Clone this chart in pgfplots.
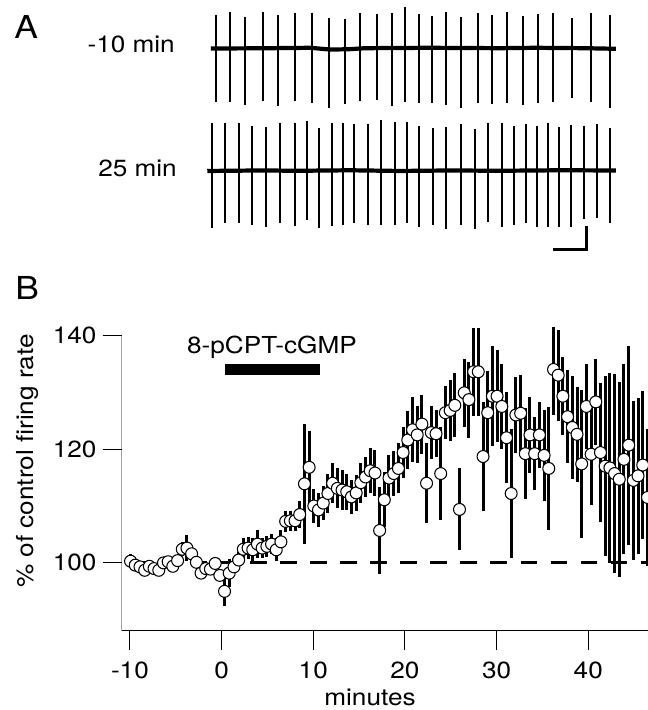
\documentclass[border=0pt]{standalone}
\usepackage{fontspec}
\setmainfont{TeX Gyre Heros}[FakeStretch=1.12]
\usepackage{pgfplots}
\usepackage{pgfplotstable}
\pgfplotsset{compat=1.18}

\newcommand{\lbl}{\fontsize{13.3}{16}\selectfont}
\newcommand{\panel}{\fontsize{18}{21}\selectfont}

% firing rate, % of control: time (min), mean, sem
\pgfplotstableread{
x y e
-9.93 100.3 1.2
-9.42 99.6 0.8
-8.90 99.3 0.8
-8.39 98.7 0.8
-7.88 99.4 0.7
-7.37 99.0 0.8
-6.85 98.7 0.8
-6.34 100.0 0.7
-5.83 100.2 0.8
-5.32 99.4 0.7
-4.80 100.4 0.9
-4.29 102.4 1.2
-3.78 102.6 2.3
-3.27 101.6 0.9
-2.75 100.1 0.8
-2.24 98.2 0.8
-1.73 99.0 0.8
-1.22 98.9 0.8
-0.70 99.9 0.8
-0.19 97.8 1.0
0.32 95.0 2.6
0.83 98.2 2.5
1.35 99.3 1.5
1.86 100.5 1.5
2.37 102.4 2.0
2.89 102.6 2.0
3.40 102.3 2.0
3.91 103.3 2.5
4.42 102.6 1.8
4.94 102.9 1.8
5.45 103.3 1.8
5.96 102.3 2.0
6.47 103.7 2.0
6.99 107.3 1.8
7.50 107.4 1.8
8.01 107.4 1.8
8.52 108.5 2.3
9.04 113.9 10.5
9.55 116.8 6.3
10.06 110.0 3.0
10.57 109.3 3.0
11.09 110.5 3.0
11.60 112.2 3.5
12.11 114.0 3.5
12.63 113.1 3.5
13.14 112.8 3.5
13.65 112.5 3.2
14.16 111.6 3.0
14.68 112.3 3.2
15.19 114.1 3.5
15.70 115.1 3.5
16.21 116.2 4.0
16.73 115.8 4.0
17.24 105.7 7.7
17.75 111.1 4.8
18.26 114.9 4.0
18.78 115.7 4.0
19.29 116.6 4.4
19.80 119.4 4.4
20.31 121.6 5.1
20.83 123.4 5.7
21.34 122.5 5.0
21.85 124.4 5.2
22.36 114.0 7.0
22.88 122.9 4.7
23.39 122.7 4.1
23.90 115.7 8.2
24.41 126.4 4.7
24.93 126.8 5.3
25.44 127.7 5.6
25.95 109.4 7.2
26.47 129.9 6.0
26.98 128.7 6.7
27.49 133.6 7.7
28.00 133.6 7.7
28.52 118.7 9.5
29.03 126.4 7.3
29.54 129.3 8.8
30.05 129.3 8.1
30.57 127.5 7.4
31.08 122.0 8.0
31.59 112.2 11.4
32.10 126.0 6.7
32.62 126.3 6.7
33.13 119.2 8.0
33.64 122.5 6.7
34.15 119.2 6.4
34.67 122.5 5.8
35.18 118.9 8.0
35.69 116.6 10.8
36.21 134.0 8.0
36.72 133.0 8.0
37.23 129.3 6.9
37.74 125.7 8.2
38.26 123.8 9.0
38.77 122.6 8.4
39.28 117.4 13.0
39.79 127.5 7.5
40.31 119.1 9.0
40.82 128.3 7.5
41.33 119.4 12.3
41.84 117.0 15.8
42.36 116.7 16.7
42.87 115.7 17.5
43.38 114.7 17.1
43.89 118.2 16.7
44.41 120.7 17.5
44.92 114.5 14.0
45.43 115.3 13.7
45.94 117.2 13.0
46.46 111.5 12.0
}\ratedata

\begin{document}
\begin{tikzpicture}[x=0.02cm,y=-0.02cm]
\path[use as bounding box] (0,0) rectangle (648,710);

% ---- panel A: extracellular traces, drawn in picture pixels
\begin{axis}[at={(4cm,-5.2cm)},anchor=south west,scale only axis,
  width=8.6cm,height=5.2cm,xmin=200,xmax=630,ymin=0,ymax=260,
  y dir=reverse,hide axis,clip=false]
% -10 min
\addplot[black,line width=2.4pt] coordinates
  {(211,48.5)(260,48.3)(310,47.8)(330,49.5)(348,49.3)(365,48.2)(430,47.8)(500,48.2)(535,47.8)(585,48.2)(616,48.8)};
\addplot[black,line width=1.1pt,unbounded coords=jump] coordinates {
(215.7,15)(215.7,101.7)(215.7,nan) (230,11.7)(230,101.7)(230,nan)
(245,16.7)(245,105)(245,nan) (262.7,11.7)(262.7,100.7)(262.7,nan)
(278.3,15)(278.3,106)(278.3,nan) (295,12.7)(295,100.7)(295,nan)
(312.3,12.7)(312.3,102.7)(312.3,nan) (329.3,18.3)(329.3,108.3)(329.3,nan)
(345,19.3)(345,104)(345,nan) (360,13.3)(360,100.7)(360,nan)
(376.7,14)(376.7,100)(376.7,nan) (391.7,13.3)(391.7,106)(391.7,nan)
(405,7.3)(405,101.7)(405,nan) (419,14)(419,103.3)(419,nan)
(432.3,16)(432.3,102.7)(432.3,nan) (446,12)(446,105)(446,nan)
(460.7,17)(460.7,108.3)(460.7,nan) (477.7,13)(477.7,102.7)(477.7,nan)
(492.3,15)(492.3,104)(492.3,nan) (507.3,12)(507.3,102.7)(507.3,nan)
(522.7,16)(522.7,105)(522.7,nan) (538.3,14)(538.3,103.3)(538.3,nan)
(552.7,13)(552.7,101.7)(552.7,nan) (571.7,18)(571.7,98.3)(571.7,nan)
(591,13)(591,101.7)(591,nan) (610,15)(610,108.3)(610,nan)};
% 25 min
\addplot[black,line width=2.4pt] coordinates
  {(207.3,171)(260,170.5)(300,170.8)(350,170.3)(400,171)(450,170.5)(500,170.8)(560,170.3)(616,170.5)};
\addplot[black,line width=1.1pt,unbounded coords=jump] coordinates {
(211.7,123.3)(211.7,228.3)(211.7,nan) (225,123.3)(225,223.3)(225,nan)
(239,123.3)(239,222.7)(239,nan) (251.7,126)(251.7,225)(251.7,nan)
(265.7,127.3)(265.7,226.7)(265.7,nan) (280,123.3)(280,223.3)(280,nan)
(295,122.7)(295,226)(295,nan) (307.3,121)(307.3,220)(307.3,nan)
(319.3,128.3)(319.3,228.3)(319.3,nan) (332.3,123.3)(332.3,226)(332.3,nan)
(343.3,123.3)(343.3,225)(343.3,nan) (354,124)(354,222.7)(354,nan)
(368.3,124)(368.3,225)(368.3,nan) (381,120)(381,225)(381,nan)
(395,121.7)(395,225)(395,nan) (406.7,121.7)(406.7,223.3)(406.7,nan)
(419,126)(419,226.7)(419,nan) (432.7,128.3)(432.7,225)(432.7,nan)
(446,126.7)(446,229.3)(446,nan) (460.7,124)(460.7,225)(460.7,nan)
(475,129.3)(475,229.3)(475,nan) (488.3,123.3)(488.3,221.7)(488.3,nan)
(501.7,122.7)(501.7,227.3)(501.7,nan) (514.3,126)(514.3,225)(514.3,nan)
(526,124)(526,223.3)(526,nan) (536.7,126)(536.7,227.3)(536.7,nan)
(547.7,122.7)(547.7,226.7)(547.7,nan) (559.3,127.3)(559.3,226.7)(559.3,nan)
(571,125)(571,226.7)(571,nan) (584.3,126)(584.3,219.3)(584.3,nan)
(596.7,124)(596.7,218.3)(596.7,nan) (610,128.3)(610,223.3)(610,nan)};
% scale bar
\addplot[black,line width=1.7pt] coordinates {(553.3,250)(586.7,250)(586.7,226)};
\end{axis}

\node[anchor=base east,font=\lbl] at (181,52.7) {-10 min};
\node[anchor=base east,font=\lbl] at (183,176.7) {25 min};
\node[anchor=base west,font=\panel,inner sep=0pt] at (14,38.3) {A};
\node[anchor=base west,font=\panel,inner sep=0pt] at (15,299.3) {B};

% ---- panel B: firing rate
\begin{axis}[at={(2.434cm,-12.614cm)},anchor=south west,scale only axis,
  width=10.526cm,height=6.054cm,
  xmin=-10.9,xmax=46.5,ymin=88.1,ymax=141.3,
  axis x line*=bottom,axis y line*=left,
  y axis line style={draw=none},
  axis line style={line width=0.6pt},
  xtick={-10,0,10,20,30,40},ytick={100,120,140},
  tick align=outside,major tick length=0.38cm,
  tick style={line width=0.6pt,black},
  /pgf/number format/assume math mode=true,
  tick label style={font=\lbl},
  xticklabel style={yshift=-0.12cm},
]
\draw[line width=0.6pt] (axis cs:-10.9,88.1) -- (axis cs:-10.9,140);
\addplot[black,line width=1.7pt,dash pattern=on 9.5pt off 7.6pt]
  coordinates {(-10,100)(46.5,100)};
\addplot[only marks,mark=none,error bars/.cd,y dir=both,y explicit,error mark=none,
  error bar style={draw=black,solid,line width=1.7pt}]
  table[x=x,y=y,y error=e] {\ratedata};
\addplot[only marks,mark=*,mark size=3.4pt,
  mark options={fill=white,draw=black,line width=0.6pt}]
  table[x=x,y=y] {\ratedata};
\fill (axis cs:0.36,133.1) rectangle (axis cs:10.73,135.0);
\node[anchor=base,font=\lbl] at (axis cs:5.49,136.8) {8-pCPT-cGMP};
\end{axis}

\node[anchor=base,font=\lbl] at (370,705) {minutes};
\node[anchor=base,rotate=90,font=\lbl] at (33,461) {\% of control firing rate};
\end{tikzpicture}
\end{document}
